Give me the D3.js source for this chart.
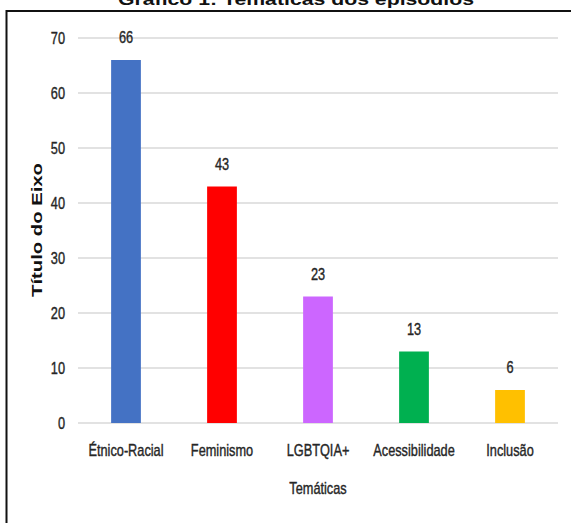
<!DOCTYPE html>
<html>
<head>
<meta charset="utf-8">
<script src="https://cdn.jsdelivr.net/npm/d3@7"></script>
<style>
  body { margin: 0; background: #fff; }
</style>
</head>
<body>
<script>
var categories = ['Étnico-Racial', 'Feminismo', 'LGBTQIA+', 'Acessibilidade', 'Inclusão'];
var values = [66, 43, 23, 13, 6];
var colors = ['#4472C4', '#FF0000', '#CC66FF', '#00B050', '#FFC000'];
var yTicks = [0, 10, 20, 30, 40, 50, 60, 70];

const svg = d3.select('body')
    .append('svg')
    .attr('width', 571)
    .attr('height', 523);

const sans = '"Liberation Sans", Arial, sans-serif';
const squeeze = 0.75;

// narrow text: normal sans squeezed horizontally
function narrowText(sel) {
    return sel
        .attr('font-family', sans)
        .attr('font-size', 17)
        .attr('fill', '#262626')
        .attr('stroke', '#262626')
        .attr('stroke-width', 0.4);
}

// title, cut off at the top
svg.append('text')
    .attr('x', 118)
    .attr('y', 5)
    .attr('textLength', 356)
    .attr('lengthAdjust', 'spacingAndGlyphs')
    .attr('font-family', sans)
    .attr('font-weight', 'bold')
    .attr('font-size', 16)
    .attr('fill', '#111')
    .text('Gráfico 1: Temáticas dos episódios');

// frame
svg.append('path')
    .attr('d', 'M6.5,540 L6.5,11 L580,11')
    .attr('fill', 'none')
    .attr('stroke', '#111')
    .attr('stroke-width', 2);

const x = d3.scaleBand()
    .domain(categories)
    .range([78, 558])
    .paddingInner(0.69)
    .paddingOuter(0.345);

const y = d3.scaleLinear()
    .domain([0, 70])
    .range([423, 38]);

// gridlines
svg.selectAll('.grid')
    .data(yTicks)
    .enter()
    .append('line')
    .attr('class', 'grid')
    .attr('x1', 78)
    .attr('x2', 558)
    .attr('y1', d => y(d))
    .attr('y2', d => y(d))
    .attr('stroke', '#d9d9d9')
    .attr('stroke-width', 1.5);

// y tick labels
svg.selectAll('.ytick')
    .data(yTicks)
    .enter()
    .append('text')
    .attr('class', 'ytick')
    .attr('transform', d => `translate(65,${y(d) + 6}) scale(${squeeze},1)`)
    .attr('text-anchor', 'end')
    .call(narrowText)
    .text(d => d);

// bars
svg.selectAll('.bar')
    .data(values)
    .enter()
    .append('rect')
    .attr('class', 'bar')
    .attr('x', (d, i) => x(categories[i]))
    .attr('y', d => y(d))
    .attr('width', x.bandwidth())
    .attr('height', d => y(0) - y(d))
    .attr('fill', (d, i) => colors[i]);

// value labels
svg.selectAll('.val')
    .data(values)
    .enter()
    .append('text')
    .attr('class', 'val')
    .attr('transform', (d, i) => `translate(${x(categories[i]) + x.bandwidth() / 2},${y(d) - 17}) scale(${squeeze},1)`)
    .attr('text-anchor', 'middle')
    .call(narrowText)
    .text(d => d);

// category labels
svg.selectAll('.cat')
    .data(categories)
    .enter()
    .append('text')
    .attr('class', 'cat')
    .attr('transform', d => `translate(${x(d) + x.bandwidth() / 2},456) scale(${squeeze},1)`)
    .attr('text-anchor', 'middle')
    .call(narrowText)
    .text(d => d);

// axis titles
svg.append('text')
    .attr('transform', `translate(318,494) scale(${squeeze},1)`)
    .attr('text-anchor', 'middle')
    .call(narrowText)
    .text('Temáticas');

svg.append('text')
    .attr('transform', 'translate(42,230) rotate(-90)')
    .attr('x', -67)
    .attr('y', 0)
    .attr('textLength', 134)
    .attr('lengthAdjust', 'spacingAndGlyphs')
    .attr('font-family', sans)
    .attr('font-weight', 'bold')
    .attr('font-size', 15)
    .attr('fill', '#111')
    .text('Título do Eixo');
</script>
</body>
</html>
